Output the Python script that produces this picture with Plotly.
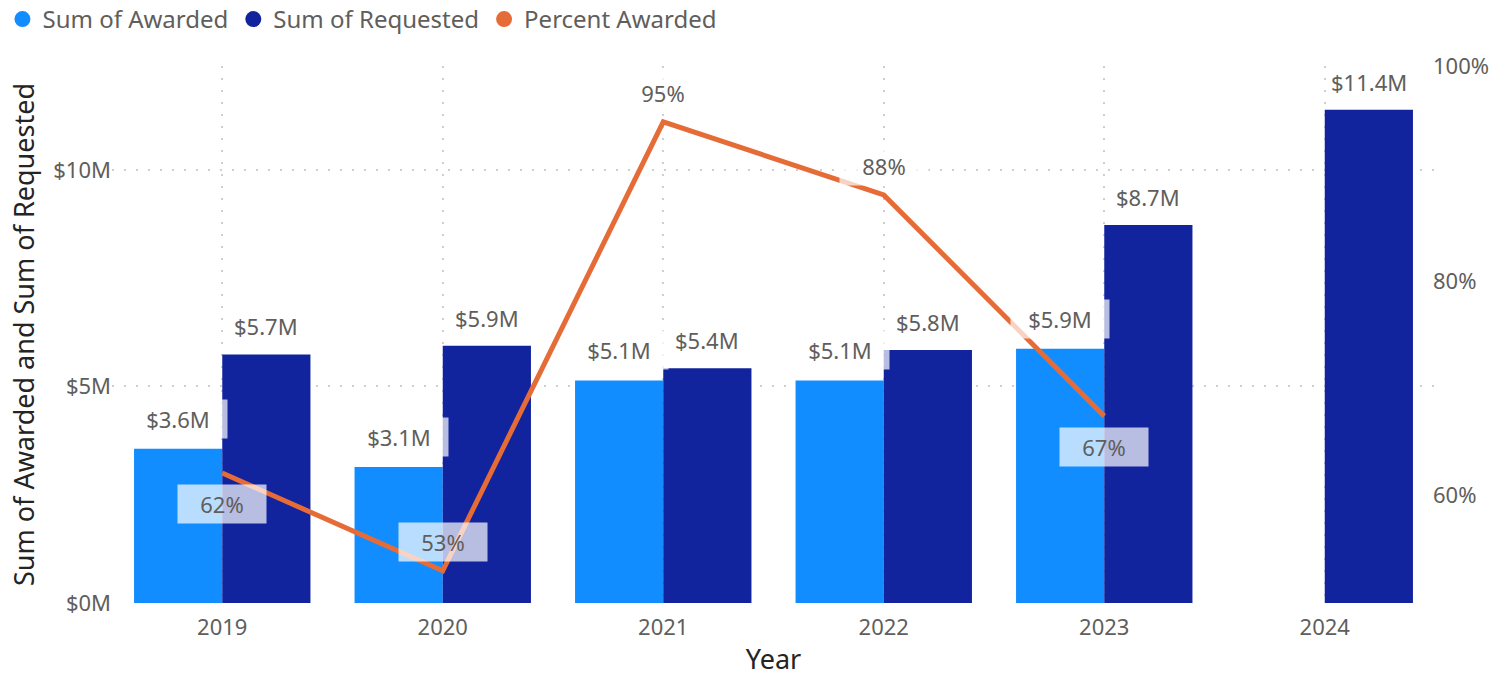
import plotly.graph_objects as go

# ---- data ----
years = ["2019", "2020", "2021", "2022", "2023", "2024"]
awarded = [3.56e6, 3.14e6, 5.14e6, 5.14e6, 5.87e6, None]
requested = [5.74e6, 5.94e6, 5.42e6, 5.84e6, 8.73e6, 11.39e6]
pct_years = ["2019", "2020", "2021", "2022", "2023"]
pct_awarded = [0.621, 0.53, 0.948, 0.88, 0.674]
left_tickvals = [0, 5e6, 10e6]
left_ticktext = ["$0M", "$5M", "$10M"]
right_tickvals = [0.6, 0.8, 1.0]

# ---- style ----
C_AW = "#118DFF"
C_RQ = "#12239E"
C_PCT = "#E66C37"
TXT = "#605E5C"
DARK = "#252423"
FONT = "Segoe UI, Noto Sans, sans-serif"
GRID = "#CFCFCF"
pct_side = ["below", "above", "above", "above", "below"]

fig = go.Figure()
fig.add_trace(go.Bar(x=years, y=awarded, name="Sum of Awarded", marker_color=C_AW,
                     marker_line_width=0, showlegend=False))
fig.add_trace(go.Bar(x=years, y=requested, name="Sum of Requested", marker_color=C_RQ,
                     marker_line_width=0, showlegend=False))
fig.add_trace(go.Scatter(x=pct_years, y=pct_awarded, name="Percent Awarded", yaxis="y2",
                         mode="lines", line=dict(color=C_PCT, width=5), showlegend=False))

# legend entries with circle markers (Power BI style)
for nm, col in [("Sum of Awarded", C_AW), ("Sum of Requested", C_RQ), ("Percent Awarded", C_PCT)]:
    fig.add_trace(go.Scatter(x=[None], y=[None], mode="markers", name=nm,
                             marker=dict(symbol="circle", size=20, color=col)))

lab_font = dict(family=FONT, size=22, color=TXT)
bg = "rgba(255,255,255,0.70)"
annotations = []
for i, v in enumerate(awarded):
    if v is None:
        continue
    annotations.append(dict(x=i, y=v, xref="x", yref="y", text="$" + f"{v/1e6:.1f}M",
                            showarrow=False, xshift=-44, yshift=30, font=lab_font,
                            bgcolor=bg, borderpad=0, width=98, height=38))
for i, v in enumerate(requested):
    annotations.append(dict(x=i, y=v, xref="x", yref="y", text="$" + f"{v/1e6:.1f}M",
                            showarrow=False, xshift=44, yshift=28, font=lab_font,
                            borderpad=6))
for i, (v, side) in enumerate(zip(pct_awarded, pct_side)):
    annotations.append(dict(x=i, y=v, xref="x", yref="y2", text=f"{v*100:.0f}%",
                            showarrow=False, yshift=(-31 if side == "below" else 29),
                            font=lab_font, bgcolor=bg, borderpad=0, width=88, height=38))

fig.update_layout(
    width=1489, height=677,
    margin=dict(l=112, r=54, t=66, b=74, autoexpand=False),
    paper_bgcolor="white", plot_bgcolor="white",
    font=dict(family=FONT, size=22, color=TXT),
    barmode="group", bargap=0.2, bargroupgap=0,
    legend=dict(orientation="h", x=-0.0828, y=1.1285,
                xanchor="left", yanchor="top",
                font=dict(family=FONT, size=24, color=TXT), itemwidth=30,
                traceorder="normal", bgcolor="rgba(0,0,0,0)"),
    xaxis=dict(type="category", range=[-0.5, 5.5], automargin=False, showgrid=True,
               gridcolor=GRID, griddash="2px,10px", gridwidth=2, showline=False, ticks="",
               tickfont=dict(family=FONT, size=22, color=TXT), ticklabelstandoff=9,
               title=dict(text="Year", font=dict(family=FONT, size=27, color=DARK), standoff=19)),
    yaxis=dict(range=[0, 12.4e6], tickvals=left_tickvals, ticktext=left_ticktext,
               automargin=False, showgrid=True, gridcolor=GRID, griddash="2px,10px",
               gridwidth=2, zeroline=False, showline=False, ticks="",
               tickfont=dict(family=FONT, size=22, color=TXT),
               title=dict(text="Sum of Awarded and Sum of Requested",
                          font=dict(family=FONT, size=27, color=DARK), standoff=10)),
    yaxis2=dict(overlaying="y", side="right", range=[0.5, 1.0], tickvals=right_tickvals,
                automargin=False, tickformat=".0%", showgrid=False, zeroline=False,
                showline=False, ticks="", ticklabelstandoff=-3,
                tickfont=dict(family=FONT, size=22, color=TXT)),
    annotations=annotations,
    hovermode="closest",
)

# remove the default 8px page margin so the figure fills the window exactly
fig.write_html("out.html", config={"displayModeBar": False},
               post_script="document.body.style.margin='0px';")
